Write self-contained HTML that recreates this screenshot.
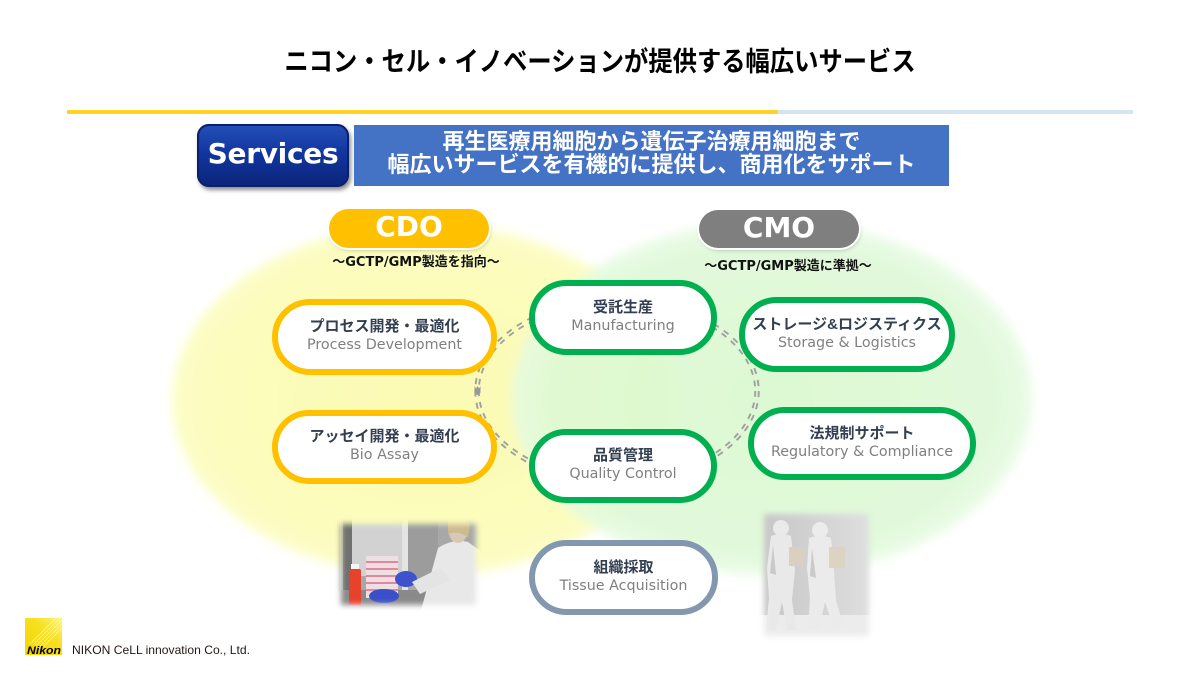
<!DOCTYPE html>
<html lang="ja">
<head>
<meta charset="utf-8">
<style>
  html,body{margin:0;padding:0;background:#fff;}
  body{width:1200px;height:675px;position:relative;overflow:hidden;}
  .abs{position:absolute;}
  .node{position:absolute;box-sizing:border-box;background:#fff;border-radius:40px;display:flex;flex-direction:column;align-items:center;justify-content:center;text-align:center;padding-bottom:2px;}
  .jp{font-family:"Liberation Sans","Noto Sans CJK JP",sans-serif;font-weight:700;font-size:15px;line-height:18px;color:#333f50;white-space:nowrap;}
  .en{font-family:"DejaVu Sans","Liberation Sans",sans-serif;font-weight:400;font-size:14.3px;line-height:18px;color:#808080;white-space:nowrap;}
  .or{border:6px solid #ffc000;}
  .gr{border:6px solid #00b050;}
  .bl{border:6px solid #8497b0;}
  .sub{position:absolute;font-family:"DejaVu Sans","Noto Sans CJK JP",sans-serif;font-weight:700;font-size:13px;line-height:16px;color:#111;white-space:nowrap;text-align:center;}
</style>
</head>
<body>

<svg class="abs" style="left:0;top:0" width="1200" height="675" viewBox="0 0 1200 675">
  <defs>
    <radialGradient id="gy" cx="0.5" cy="0.5" r="0.5">
      <stop offset="0" stop-color="#fbfbb4"/>
      <stop offset="0.85" stop-color="#fcfcbd"/>
      <stop offset="1" stop-color="#fdfdc8"/>
    </radialGradient>
    <radialGradient id="gg" cx="0.5" cy="0.5" r="0.5">
      <stop offset="0" stop-color="#d8f9cc"/>
      <stop offset="0.85" stop-color="#def9d6"/>
      <stop offset="1" stop-color="#e6fbe2"/>
    </radialGradient>
    <filter id="soft" x="-20%" y="-20%" width="140%" height="140%"><feGaussianBlur stdDeviation="5"/></filter>
    <filter id="blur3" x="-20%" y="-20%" width="140%" height="140%"><feGaussianBlur stdDeviation="3"/></filter>
    <mask id="ringmask" maskUnits="userSpaceOnUse" x="0" y="0" width="1200" height="675">
      <rect x="0" y="0" width="1200" height="675" fill="#fff"/>
      <ellipse cx="617" cy="391" rx="140" ry="90" fill="none" stroke="#000" stroke-width="1.6"/>
    </mask>
    <mask id="pm1" maskUnits="userSpaceOnUse" x="320" y="505" width="180" height="120">
      <rect x="341" y="524" width="135" height="81" fill="#fff" filter="url(#blur3)"/>
    </mask>
    <mask id="pm2" maskUnits="userSpaceOnUse" x="745" y="495" width="145" height="160">
      <rect x="764" y="514" width="105" height="122" fill="#fff" filter="url(#blur3)"/>
    </mask>
    <linearGradient id="ph2bg" x1="0" y1="0" x2="1" y2="0">
      <stop offset="0" stop-color="#c4c4c4"/>
      <stop offset="1" stop-color="#e2e2e2"/>
    </linearGradient>
    <linearGradient id="logoG" x1="0" y1="1" x2="1" y2="0">
      <stop offset="0" stop-color="#f2d400"/>
      <stop offset="0.6" stop-color="#f7e020"/>
      <stop offset="1" stop-color="#fff27a"/>
    </linearGradient>
  </defs>

  <!-- background ellipses -->
  <ellipse cx="425" cy="400" rx="253" ry="176" fill="url(#gy)" filter="url(#soft)"/>
  <ellipse cx="772" cy="398" rx="260" ry="177" fill="url(#gg)" opacity="0.88" filter="url(#soft)"/>

  <!-- dashed double ring -->
  <ellipse cx="617" cy="391" rx="140" ry="90" fill="none" stroke="#a0a0a0" stroke-width="5.4" stroke-dasharray="6 6" mask="url(#ringmask)"/>
  <path d="M474.5,386 v6 a3,3 0 0 0 6,0 v-6 l-1.5,2.5 l-1.5,-2.5 l-1.5,2.5 z" fill="#999"/>

  <!-- left photo -->
  <g mask="url(#pm1)">
    <rect x="330" y="514" width="160" height="100" fill="#a8a8a8"/>
    <rect x="330" y="514" width="22" height="100" fill="#707070"/>
    <rect x="340" y="514" width="3" height="90" fill="#9a9a9a"/>
    <rect x="352" y="514" width="50" height="62" fill="#d2d2d2"/>
    <rect x="402" y="514" width="6" height="80" fill="#e4e4e4"/>
    <rect x="408" y="514" width="30" height="70" fill="#9c9c9c"/>
    <rect x="330" y="590" width="160" height="24" fill="#8a8a8a"/>
    <path d="M438,548 q15,-10 30,-6 l14,10 v62 h-62 z" fill="#e8e8e8"/>
    <ellipse cx="458" cy="532" rx="9" ry="11" fill="#d9c8b6"/>
    <path d="M448,522 q10,-10 22,2 l-2,14 q-8,-8 -20,-4 z" fill="#cdbb90"/>
    <rect x="351" y="564" width="8" height="6" fill="#f4f4f4"/>
    <rect x="349" y="569" width="12" height="36" rx="2" fill="#e8412c"/>
    <rect x="366" y="556" width="32" height="42" fill="#eedfe2"/>
    <g stroke="#e06a88" stroke-width="1.5">
      <line x1="366" y1="562" x2="398" y2="562"/><line x1="366" y1="569" x2="398" y2="569"/>
      <line x1="366" y1="576" x2="398" y2="576"/><line x1="366" y1="583" x2="398" y2="583"/>
      <line x1="366" y1="590" x2="398" y2="590"/>
    </g>
    <ellipse cx="384" cy="596" rx="15" ry="7" fill="#3b4fc8"/>
    <ellipse cx="406" cy="579" rx="11" ry="8" fill="#3d52cc"/>
    <path d="M412,582 l28,-14 l10,12 l-30,14 z" fill="#e4e4e4"/>
  </g>

  <!-- right photo -->
  <g mask="url(#pm2)">
    <rect x="750" y="500" width="135" height="150" fill="url(#ph2bg)"/>
    <rect x="750" y="615" width="135" height="35" fill="#ececec"/>
    <circle cx="781" cy="528" r="8" fill="#eaeaea"/>
    <path d="M771,536 q10,-4 20,0 l4,34 l-3,30 l4,30 h-9 l-5,-28 l-6,28 h-10 l3,-32 l-2,-30 z" fill="#e9e9e9"/>
    <path d="M773,545 l-3,28 l6,2 z" fill="#c9c9c9"/>
    <rect x="789" y="547" width="15" height="19" fill="#d9d0bf"/>
    <circle cx="820" cy="530" r="8" fill="#ececec"/>
    <path d="M809,538 q11,-4 22,0 l3,34 l2,28 l8,28 h-10 l-9,-26 l-6,28 h-11 l2,-32 l-3,-30 z" fill="#ebebeb"/>
    <path d="M812,548 l-2,28 l6,2 z" fill="#cacaca"/>
    <rect x="829" y="547" width="16" height="21" fill="#dcd3c2"/>
  </g>

  <!-- logo -->
  <rect x="25" y="618" width="37" height="37" fill="url(#logoG)"/>
  <g stroke="#fffbd0" stroke-width="0.8" opacity="0.8">
    <line x1="62" y1="620" x2="36" y2="646"/>
    <line x1="62" y1="624" x2="40" y2="646"/>
    <line x1="62" y1="628" x2="44" y2="646"/>
    <line x1="60" y1="618" x2="33" y2="645"/>
    <line x1="56" y1="618" x2="30" y2="644"/>
  </g>
  <text x="27" y="654" font-family="Liberation Sans, sans-serif" font-weight="700" font-style="italic" font-size="11" fill="#000" textLength="34" lengthAdjust="spacingAndGlyphs">Nikon</text>
  <text x="72" y="654" font-family="Liberation Sans, sans-serif" font-size="12" fill="#231815" textLength="178" lengthAdjust="spacingAndGlyphs">NIKON CeLL innovation Co., Ltd.</text>
</svg>

<!-- title -->
<div class="abs" style="left:0;top:47px;width:1200px;text-align:center;font-family:'Liberation Sans','Noto Sans CJK JP',sans-serif;font-weight:700;font-size:27px;line-height:30px;color:#000;transform:scaleX(0.9);white-space:nowrap;">ニコン・セル・イノベーションが提供する幅広いサービス</div>

<!-- header rule -->
<div class="abs" style="left:67px;top:110px;width:711px;height:4px;background:#ffd320;"></div>
<div class="abs" style="left:778px;top:110px;width:355px;height:4px;background:#d5e5f0;"></div>

<!-- Services box -->
<div class="abs" style="left:197px;top:124px;width:152px;height:63px;border-radius:12px;background:linear-gradient(180deg,#2450b8 0%,#1236a0 45%,#0a2478 100%);box-shadow:2px 3px 4px rgba(0,0,0,0.45), inset 0 0 0 2px #0a1f6e;display:flex;align-items:center;justify-content:center;padding-bottom:4px;box-sizing:border-box;">
  <span style="font-family:'DejaVu Sans','Liberation Sans',sans-serif;font-weight:700;font-size:28px;color:#fff;letter-spacing:-0.3px;">Services</span>
</div>

<!-- blue banner -->
<div class="abs" style="left:354px;top:125px;width:595px;height:61px;background:#4472c4;"></div>
<div class="abs" style="left:354px;top:130px;width:595px;text-align:center;font-family:'Liberation Sans','Noto Sans CJK JP',sans-serif;font-weight:700;font-size:22px;line-height:23px;color:#fff;white-space:nowrap;">再生医療用細胞から遺伝子治療用細胞まで<br>幅広いサービスを有機的に提供し、商用化をサポート</div>

<!-- CDO / CMO pills -->
<div class="abs" style="left:329px;top:209px;width:160px;height:39px;border-radius:20px;background:#ffc000;box-shadow:0 0 0 2px #fff,1px 2px 4px rgba(0,0,0,0.25);display:flex;align-items:center;justify-content:center;">
  <span style="font-family:'DejaVu Sans','Liberation Sans',sans-serif;font-weight:700;font-size:28px;line-height:30px;color:#fff;margin-top:-3px;">CDO</span>
</div>
<div class="abs" style="left:699px;top:210px;width:160px;height:38px;border-radius:20px;background:#7f7f7f;box-shadow:0 0 0 2px #fff,1px 2px 4px rgba(0,0,0,0.25);display:flex;align-items:center;justify-content:center;">
  <span style="font-family:'DejaVu Sans','Liberation Sans',sans-serif;font-weight:700;font-size:28px;line-height:30px;color:#fff;margin-top:-3px;">CMO</span>
</div>

<div class="sub" style="left:316px;top:255px;width:200px;">〜GCTP/GMP製造を指向〜</div>
<div class="sub" style="left:688px;top:259px;width:200px;">〜GCTP/GMP製造に準拠〜</div>

<!-- nodes -->
<div class="node or" style="left:272px;top:299px;width:225px;height:76px;">
  <div class="jp">プロセス開発・最適化</div><div class="en">Process Development</div>
</div>
<div class="node or" style="left:272px;top:410px;width:225px;height:74px;">
  <div class="jp">アッセイ開発・最適化</div><div class="en">Bio Assay</div>
</div>
<div class="node gr" style="left:529px;top:280px;width:188px;height:75px;">
  <div class="jp">受託生産</div><div class="en">Manufacturing</div>
</div>
<div class="node gr" style="left:529px;top:429px;width:188px;height:74px;">
  <div class="jp">品質管理</div><div class="en">Quality Control</div>
</div>
<div class="node gr" style="left:739px;top:297px;width:216px;height:75px;">
  <div class="jp">ストレージ&amp;ロジスティクス</div><div class="en">Storage &amp; Logistics</div>
</div>
<div class="node gr" style="left:748px;top:407px;width:228px;height:73px;">
  <div class="jp">法規制サポート</div><div class="en">Regulatory &amp; Compliance</div>
</div>
<div class="node bl" style="left:529px;top:540px;width:189px;height:75px;">
  <div class="jp">組織採取</div><div class="en">Tissue Acquisition</div>
</div>

</body>
</html>
